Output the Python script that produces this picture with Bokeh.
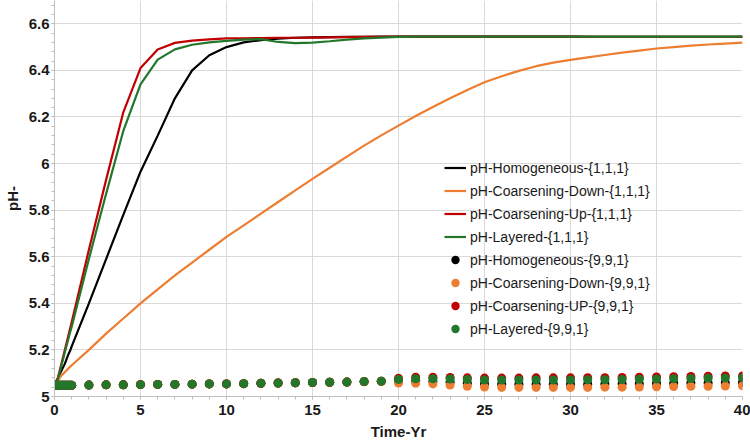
from bokeh.plotting import figure
from bokeh.models import (Range1d, FixedTicker, CustomJSTickFormatter, Legend,
                          LegendItem, ColumnDataSource)
from bokeh.embed import file_html
from bokeh.resources import INLINE

# Simulation times (years): tenths during the first year, then yearly steps
time_yr = [0, 0.1, 0.2, 0.3, 0.4, 0.5, 0.6, 0.7, 0.8, 0.9, 1,
           2, 3, 4, 5, 6, 7, 8, 9, 10, 11, 12, 13, 14, 15, 16, 17, 18, 19, 20,
           21, 22, 23, 24, 25, 26, 27, 28, 29, 30, 31, 32, 33, 34, 35, 36, 37, 38, 39, 40]

# pH for the {1,1,1} grid cases (lines)
ph_homogeneous_111 = [5.05, 5.065, 5.08, 5.095, 5.11, 5.125, 5.14, 5.16, 5.18, 5.195, 5.215,
                      5.40, 5.59, 5.78, 5.965, 6.12, 6.28, 6.40, 6.465, 6.50, 6.52, 6.53, 6.536,
                      6.54, 6.542, 6.543, 6.544, 6.544, 6.545, 6.545,
                      6.545, 6.545, 6.545, 6.545, 6.545, 6.545, 6.545, 6.545, 6.545, 6.545,
                      6.544, 6.544, 6.544, 6.544, 6.544, 6.544, 6.544, 6.544, 6.544, 6.544]
ph_coarsening_down_111 = [5.05, 5.055, 5.065, 5.08, 5.09, 5.097, 5.105, 5.112, 5.12, 5.127, 5.134,
                          5.20, 5.27, 5.335, 5.40, 5.46, 5.52, 5.575, 5.63, 5.685, 5.735, 5.785,
                          5.835, 5.885, 5.934, 5.982, 6.03, 6.077, 6.121, 6.163, 6.204, 6.243,
                          6.28, 6.316, 6.349, 6.375, 6.398, 6.418, 6.433, 6.445, 6.456, 6.466,
                          6.476, 6.485, 6.494, 6.500, 6.506, 6.511, 6.515, 6.519]
ph_coarsening_up_111 = [5.05, 5.06, 5.08, 5.11, 5.14, 5.17, 5.20, 5.23, 5.26, 5.29, 5.32,
                        5.63, 5.93, 6.22, 6.41, 6.49, 6.518, 6.528, 6.533, 6.537, 6.538, 6.539,
                        6.540, 6.540, 6.541, 6.542, 6.543, 6.544, 6.544, 6.545,
                        6.545, 6.545, 6.545, 6.545, 6.545, 6.545, 6.545, 6.545, 6.545, 6.545,
                        6.544, 6.544, 6.544, 6.544, 6.544, 6.544, 6.544, 6.544, 6.544, 6.544]
ph_layered_111 = [5.05, 5.06, 5.078, 5.105, 5.133, 5.16, 5.19, 5.218, 5.246, 5.274, 5.30,
                  5.59, 5.87, 6.14, 6.34, 6.446, 6.49, 6.51, 6.52, 6.527, 6.532, 6.534, 6.522,
                  6.517, 6.519, 6.525, 6.532, 6.537, 6.541, 6.544,
                  6.545, 6.545, 6.545, 6.545, 6.545, 6.545, 6.545, 6.545, 6.545, 6.545,
                  6.545, 6.545, 6.545, 6.545, 6.545, 6.545, 6.545, 6.545, 6.545, 6.545]

# pH for the {9,9,1} grid cases (markers)
ph_homogeneous_991 = [5.048, 5.048, 5.048, 5.048, 5.048, 5.048, 5.048, 5.048, 5.048, 5.048, 5.048,
                      5.049, 5.05, 5.05, 5.051, 5.052, 5.052, 5.053, 5.054, 5.054, 5.055, 5.057,
                      5.058, 5.059, 5.06, 5.061, 5.062, 5.064, 5.066,
                      5.067, 5.066, 5.064, 5.061, 5.057, 5.054, 5.053, 5.053, 5.053, 5.053,
                      5.053, 5.053, 5.054, 5.055, 5.055, 5.056, 5.057, 5.058, 5.058, 5.059, 5.060]
ph_coarsening_down_991 = [5.048, 5.048, 5.048, 5.048, 5.048, 5.048, 5.048, 5.048, 5.048, 5.048, 5.048,
                          5.049, 5.05, 5.05, 5.051, 5.052, 5.052, 5.053, 5.054, 5.054, 5.055, 5.057,
                          5.058, 5.059, 5.06, 5.061, 5.062, 5.063, 5.064,
                          5.058, 5.057, 5.054, 5.049, 5.044, 5.041, 5.039, 5.039, 5.039, 5.039,
                          5.039, 5.039, 5.040, 5.040, 5.041, 5.042, 5.043, 5.044, 5.044, 5.045, 5.046]
ph_coarsening_up_991 = [5.048, 5.048, 5.048, 5.048, 5.048, 5.048, 5.048, 5.048, 5.048, 5.048, 5.048,
                        5.049, 5.05, 5.05, 5.051, 5.052, 5.052, 5.053, 5.054, 5.054, 5.055, 5.057,
                        5.058, 5.059, 5.06, 5.061, 5.062, 5.064, 5.066,
                        5.078, 5.083, 5.083, 5.082, 5.080, 5.079, 5.079, 5.079, 5.080, 5.080,
                        5.080, 5.081, 5.081, 5.082, 5.083, 5.084, 5.085, 5.086, 5.087, 5.088, 5.088]
ph_layered_991 = [5.048, 5.048, 5.048, 5.048, 5.048, 5.048, 5.048, 5.048, 5.048, 5.048, 5.048,
                  5.049, 5.05, 5.05, 5.051, 5.052, 5.052, 5.053, 5.054, 5.054, 5.055, 5.057,
                  5.058, 5.059, 5.06, 5.061, 5.062, 5.064, 5.066,
                  5.073, 5.076, 5.076, 5.075, 5.073, 5.071, 5.071, 5.071, 5.071, 5.071,
                  5.071, 5.072, 5.072, 5.073, 5.074, 5.075, 5.076, 5.077, 5.078, 5.079, 5.080]

line_labels = ["pH-Homogeneous-{1,1,1}", "pH-Coarsening-Down-{1,1,1}",
               "pH-Coarsening-Up-{1,1,1}", "pH-Layered-{1,1,1}"]
dot_labels = ["pH-Homogeneous-{9,9,1}", "pH-Coarsening-Down-{9,9,1}",
              "pH-Coarsening-UP-{9,9,1}", "pH-Layered-{9,9,1}"]
series_colors = ["#000000", "#ED7D31", "#C00000", "#23772B"]

x_major_ticks = [0, 5, 10, 15, 20, 25, 30, 35, 40]
x_minor_ticks = list(range(0, 41))
y_major_ticks = [5.0, 5.2, 5.4, 5.6, 5.8, 6.0, 6.2, 6.4, 6.6]
y_minor_ticks = [round(5.0 + 0.04 * i, 2) for i in range(43)]

FONT = "Liberation Sans"

p = figure(width=750, height=446, output_backend="svg", toolbar_location=None,
           x_range=Range1d(0, 40), y_range=Range1d(5.0, 6.7),
           min_border_left=53, min_border_right=8, min_border_top=0, min_border_bottom=50)
p.outline_line_color = None
p.background_fill_color = "white"

src = ColumnDataSource(dict(
    t=time_yr,
    l0=ph_homogeneous_111, l1=ph_coarsening_down_111, l2=ph_coarsening_up_111, l3=ph_layered_111,
    d0=ph_homogeneous_991, d1=ph_coarsening_down_991, d2=ph_coarsening_up_991, d3=ph_layered_991,
))

items = []
for i, (lab, col) in enumerate(zip(line_labels, series_colors)):
    r = p.line("t", f"l{i}", source=src, line_color=col, line_width=2.2)
    items.append(LegendItem(label=lab, renderers=[r]))
for i, (lab, col) in enumerate(zip(dot_labels, series_colors)):
    r = p.scatter("t", f"d{i}", source=src, size=9, fill_color=col, line_color=None)
    items.append(LegendItem(label=lab, renderers=[r]))

legend = Legend(items=items, location=(390, 57), padding=0, margin=0, spacing=2,
                glyph_width=22, glyph_height=21, label_height=21, label_standoff=4,
                label_text_font=FONT, label_text_font_size="14px",
                label_text_color="#1a1a1a",
                border_line_color=None, background_fill_alpha=0)
p.add_layout(legend)

# Grid
p.xgrid.ticker = FixedTicker(ticks=x_major_ticks)
p.ygrid.ticker = FixedTicker(ticks=y_major_ticks)
for g in (p.xgrid[0], p.ygrid[0]):
    g.grid_line_color = "#d9d9d9"
    g.grid_line_width = 1

# Axes
xa, ya = p.xaxis[0], p.yaxis[0]
xa.ticker = FixedTicker(ticks=x_major_ticks, minor_ticks=x_minor_ticks)
ya.ticker = FixedTicker(ticks=y_major_ticks, minor_ticks=y_minor_ticks)
ya.formatter = CustomJSTickFormatter(code="return String(Number(tick.toFixed(1)));")
for ax in (xa, ya):
    ax.axis_line_color = "#bfbfbf"
    ax.major_tick_line_color = "#bfbfbf"
    ax.minor_tick_line_color = "#bfbfbf"
    ax.major_tick_in = 0
    ax.minor_tick_in = 0
    ax.major_tick_out = 3
    ax.minor_tick_out = 3
    ax.major_label_text_font = FONT
    ax.major_label_text_font_size = "15px"
    ax.major_label_text_font_style = "bold"
    ax.major_label_text_color = "#1a1a1a"
    ax.axis_label_text_font = FONT
    ax.axis_label_text_font_size = "15px"
    ax.axis_label_text_font_style = "bold"
    ax.axis_label_text_color = "#1a1a1a"

xa.axis_label = "Time-Yr"
xa.major_label_standoff = 5
xa.axis_label_standoff = 5
ya.axis_label = "pH-"
ya.major_label_standoff = 2
ya.axis_label_standoff = 5

open("out.html", "w").write(file_html(p, INLINE))
